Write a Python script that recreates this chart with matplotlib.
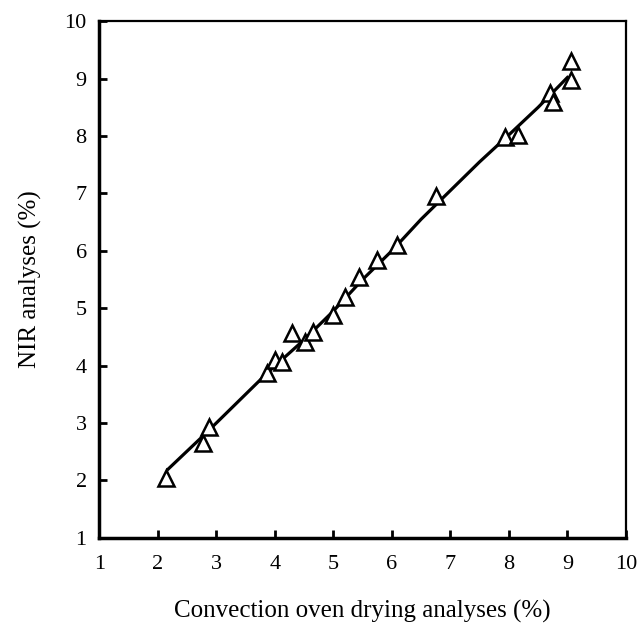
import matplotlib
matplotlib.use('Agg')
import matplotlib.pyplot as plt

# measured points
oven = [2.14, 2.78, 2.87, 3.86, 4.00, 4.12, 4.29, 4.52, 4.65, 5.00, 5.20,
        5.44, 5.74, 6.08, 6.76, 7.93, 8.16, 8.70, 8.75, 9.07, 9.07]
nir = [2.04, 2.65, 2.94, 3.87, 4.10, 4.07, 4.57, 4.42, 4.59, 4.88, 5.20,
       5.54, 5.84, 6.10, 6.95, 7.99, 8.02, 8.75, 8.60, 9.30, 8.98]

# regression line
line_x = [2.18, 2.8, 3.3, 3.9, 4.5, 5.0, 5.5, 6.0, 6.5, 7.0, 7.5, 8.0, 8.5, 9.0]
line_y = [2.2, 2.8, 3.3, 3.9, 4.45, 4.95, 5.5, 6.0, 6.55, 7.05, 7.55, 8.02, 8.5, 9.02]

ticks = list(range(1, 11))

plt.rcParams['font.family'] = ['Liberation Serif', 'DejaVu Serif']

fig = plt.figure(figsize=(6.4, 6.24), dpi=100)
ax = fig.add_axes([0.155, 0.138, 0.823, 0.828])

ax.plot(line_x, line_y, color='black', lw=2.3, zorder=2)
ax.plot(oven, nir, linestyle='none', marker='^', markersize=11,
        markerfacecolor='white', markeredgecolor='black', markeredgewidth=1.8, zorder=3)

ax.set_xlim(1, 10)
ax.set_ylim(1, 10)
ax.set_xticks(ticks)
ax.set_yticks(ticks)
ax.tick_params(direction='in', length=6, width=2, labelsize=16)
ax.tick_params(axis='x', pad=12)
ax.tick_params(axis='y', pad=9)

for s in ['left', 'bottom']:
    ax.spines[s].set_linewidth(2.5)
for s in ['top', 'right']:
    ax.spines[s].set_linewidth(1.6)

ax.set_xlabel('Convection oven drying analyses (%)', fontsize=18, labelpad=19)
ax.set_ylabel('NIR analyses (%)', fontsize=18, labelpad=16)

fig.savefig('out.png', dpi=100)
